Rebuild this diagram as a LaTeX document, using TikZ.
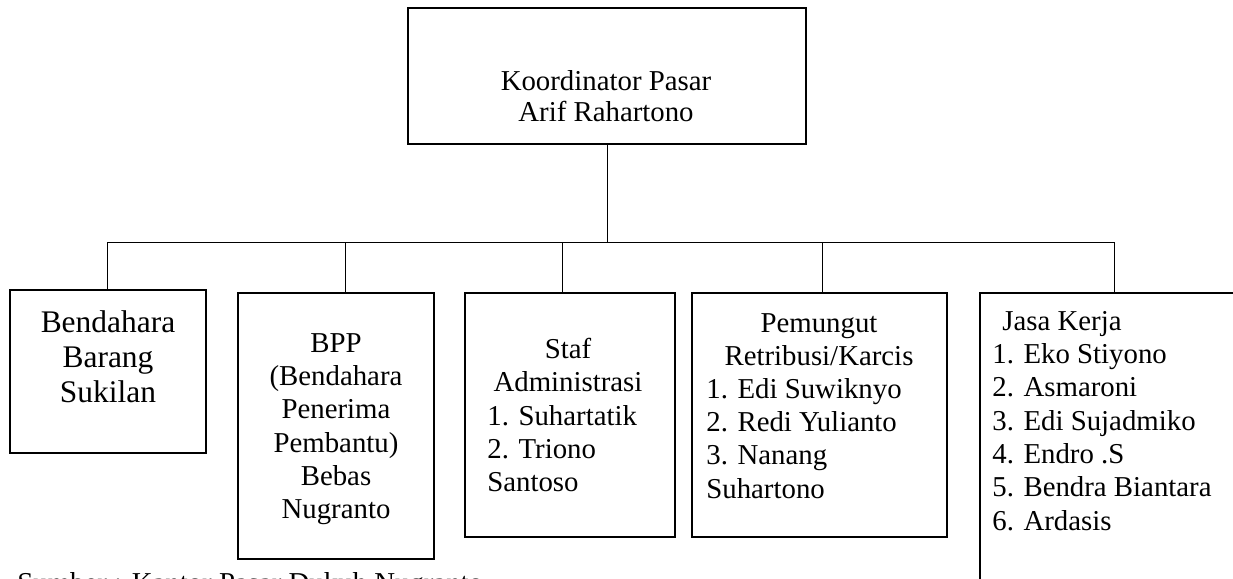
\documentclass[tikz,border=0pt]{standalone}
\usepackage{fontspec}
\setmainfont{Liberation Serif}
\tikzset{
  kotak/.style={draw, line width=0.8pt, inner sep=0pt},
  garis/.style={line width=0.5pt},
  teks/.style={inner sep=0pt, font=\fontsize{16.4}{19}\selectfont},
}
\begin{document}
\begin{tikzpicture}[x=0.02cm, y=-0.02cm]
      \useasboundingbox (0,0) rectangle (1233,578);
      % kotak
      \node[kotak, minimum width=7.96cm, minimum height=2.72cm] (k) at (607,76) {};
      \node[kotak, minimum width=3.92cm, minimum height=3.26cm] (b1) at (108,371.5) {};
      \node[kotak, minimum width=3.92cm, minimum height=5.32cm] (b2) at (336,426) {};
      \node[kotak, minimum width=4.2cm, minimum height=4.88cm] (b3) at (570,415) {};
      \node[kotak, minimum width=5.1cm, minimum height=4.88cm] (b4) at (819.5,415) {};
      \node[kotak, minimum width=5.6cm, minimum height=6.54cm] (b5) at (1120,456.5) {};
      % teks
      \node[teks, anchor=base, font=\fontsize{16.4}{18.1}\selectfont] (tk) at (606,90)
        {\begin{tabular}[t]{@{}c@{}}Koordinator Pasar\\Arif Rahartono\end{tabular}};
      \node[teks, anchor=base, font=\fontsize{17.9}{20.1}\selectfont] (t1) at (108,332)
        {\begin{tabular}[t]{@{}c@{}}Bendahara\\Barang\\Sukilan\end{tabular}};
      \node[teks, anchor=base] (t2) at (336,352)
        {\begin{tabular}[t]{@{}c@{}}BPP\\(Bendahara\\Penerima\\Pembantu)\\Bebas\\Nugranto\end{tabular}};
      \node[teks, anchor=base] (t3a) at (568,358)
        {\begin{tabular}[t]{@{}c@{}}Staf\\Administrasi\end{tabular}};
      \node[teks, anchor=base west] (t3b) at (487,425)
        {\begin{tabular}[t]{@{}l@{}}1. Suhartatik\\2. Triono\\Santoso\end{tabular}};
      \node[teks, anchor=base] (t4a) at (819,332)
        {\begin{tabular}[t]{@{}c@{}}Pemungut\\Retribusi/Karcis\end{tabular}};
      \node[teks, anchor=base west] (t4b) at (706,398)
        {\begin{tabular}[t]{@{}l@{}}1. Edi Suwiknyo\\2. Redi Yulianto\\3. Nanang\\Suhartono\end{tabular}};
      \node[teks, anchor=base west] (t5) at (992,330)
        {\begin{tabular}[t]{@{}l@{}}\hspace*{0.2cm}Jasa Kerja\\1. Eko Stiyono\\2. Asmaroni\\3. Edi Sujadmiko\\4. Endro .S\\5. Bendra Biantara\\6. Ardasis\end{tabular}};
      \node[teks, anchor=base west] (sumber) at (17,592) {Sumber : Kantor Pasar Dukuh Nugranto};
      % garis
      \coordinate (j1) at (107,242);
      \coordinate (j2) at (345,242);
      \coordinate (j3) at (562,242);
      \coordinate (j4) at (822,242);
      \coordinate (j5) at (1114,242);
      \begin{scope}[garis]
        \draw (k.south) to (k.south |- j1);
        \draw (j1) to (j5);
        \draw (j1) to (j1 |- b1.north);
        \draw (j2) to (j2 |- b2.north);
        \draw (j3) to (j3 |- b3.north);
        \draw (j4) to (j4 |- b4.north);
        \draw (j5) to (j5 |- b5.north);
      \end{scope}
    \end{tikzpicture}
\end{document}
